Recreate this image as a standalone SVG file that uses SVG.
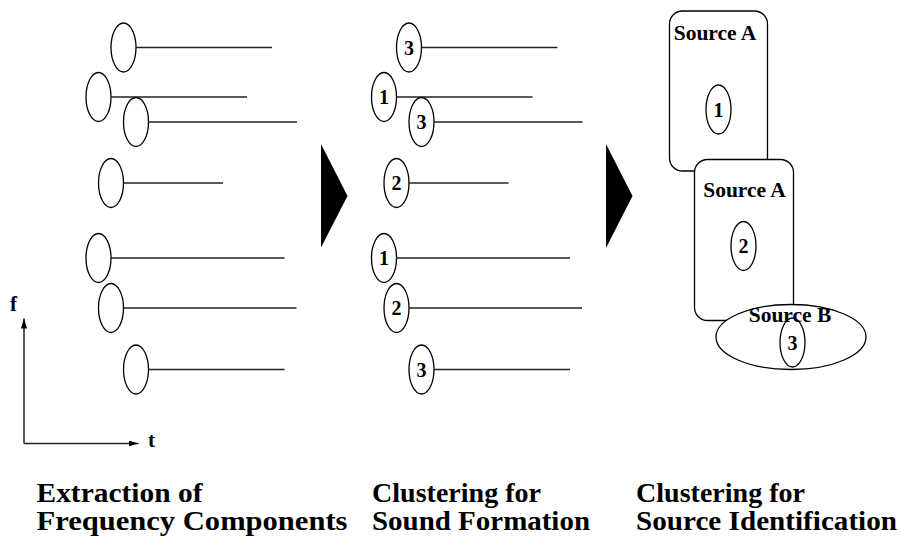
<svg xmlns="http://www.w3.org/2000/svg" width="901" height="538" viewBox="0 0 901 538">
<style>
  .el { fill: none; stroke: #000; stroke-width: 1.3; }
  .elw { fill: #fff; stroke: #000; stroke-width: 1.3; }
  .ln { stroke: #222; stroke-width: 1.5; fill: none; }
  .num { font-family: "Liberation Serif", "Times New Roman", serif; font-weight: bold; font-size: 20px; text-anchor: middle; fill: #000; }
  .src { font-family: "Liberation Serif", "Times New Roman", serif; font-weight: bold; font-size: 21.5px; text-anchor: middle; fill: #000; }
  .ax { font-family: "Liberation Serif", "Times New Roman", serif; font-weight: bold; font-size: 21px; fill: #000; }
  .cap { font-family: "Liberation Serif", "Times New Roman", serif; font-weight: bold; font-size: 28px; fill: #000; }
  .tri { fill: #000; }
</style>
<defs>
  <marker id="ah" viewBox="0 0 10 6" refX="10" refY="3" markerWidth="10" markerHeight="6" markerUnits="userSpaceOnUse" orient="auto">
    <path d="M0,0 L10,3 L0,6 z" fill="#000"/>
  </marker>
</defs>

<!-- Column 1: frequency components -->
<g id="col1">
  <g id="c1-1"><ellipse class="el" cx="123.5" cy="47.5" rx="12.5" ry="24.5"/><line class="ln" x1="136" y1="47.5" x2="272" y2="47.5"/></g>
  <g id="c1-2"><ellipse class="el" cx="98.5" cy="97" rx="12.5" ry="24.5"/><line class="ln" x1="111" y1="97" x2="247" y2="97"/></g>
  <g id="c1-3"><ellipse class="el" cx="136" cy="122" rx="12.5" ry="24.5"/><line class="ln" x1="148.5" y1="122" x2="297" y2="122"/></g>
  <g id="c1-4"><ellipse class="el" cx="111" cy="183" rx="12.5" ry="24.5"/><line class="ln" x1="123.5" y1="183" x2="223" y2="183"/></g>
  <g id="c1-5"><ellipse class="el" cx="98.5" cy="258" rx="12.5" ry="24.5"/><line class="ln" x1="111" y1="258" x2="284.5" y2="258"/></g>
  <g id="c1-6"><ellipse class="el" cx="111" cy="308" rx="12.5" ry="24.5"/><line class="ln" x1="123.5" y1="308" x2="296.5" y2="308"/></g>
  <g id="c1-7"><ellipse class="el" cx="136" cy="369.5" rx="12.5" ry="24.5"/><line class="ln" x1="148.5" y1="369.5" x2="284.5" y2="369.5"/></g>
</g>

<!-- Axes -->
<g id="axes">
  <line class="ln" x1="24" y1="443.5" x2="24" y2="318.5" marker-end="url(#ah)"/>
  <line class="ln" x1="24" y1="443.5" x2="138.5" y2="443.5" marker-end="url(#ah)"/>
  <text class="ax" x="10" y="311">f</text>
  <text class="ax" x="148" y="447">t</text>
</g>

<!-- Column 2: clustering for sound formation -->
<g id="col2">
  <g id="c2-1"><ellipse class="el" cx="409" cy="47.5" rx="12.5" ry="24.5"/><line class="ln" x1="421.5" y1="47.5" x2="557.5" y2="47.5"/><text class="num" x="409" y="54.5">3</text></g>
  <g id="c2-2"><ellipse class="el" cx="384" cy="97" rx="12.5" ry="24.5"/><line class="ln" x1="396.5" y1="97" x2="532.5" y2="97"/><text class="num" x="384" y="104">1</text></g>
  <g id="c2-3"><ellipse class="el" cx="421.5" cy="122" rx="12.5" ry="24.5"/><line class="ln" x1="434" y1="122" x2="582.5" y2="122"/><text class="num" x="421.5" y="129">3</text></g>
  <g id="c2-4"><ellipse class="el" cx="396.5" cy="183" rx="12.5" ry="24.5"/><line class="ln" x1="409" y1="183" x2="508.5" y2="183"/><text class="num" x="396.5" y="190">2</text></g>
  <g id="c2-5"><ellipse class="el" cx="384" cy="258" rx="12.5" ry="24.5"/><line class="ln" x1="396.5" y1="258" x2="570" y2="258"/><text class="num" x="384" y="265">1</text></g>
  <g id="c2-6"><ellipse class="el" cx="396.5" cy="308" rx="12.5" ry="24.5"/><line class="ln" x1="409" y1="308" x2="582" y2="308"/><text class="num" x="396.5" y="315">2</text></g>
  <g id="c2-7"><ellipse class="el" cx="421.5" cy="369.5" rx="12.5" ry="24.5"/><line class="ln" x1="434" y1="369.5" x2="570" y2="369.5"/><text class="num" x="421.5" y="376.5">3</text></g>
</g>

<!-- Arrows between stages -->
<g id="arrows">
  <polygon class="tri" points="321,144 347.5,196 321,247.5"/>
  <polygon class="tri" points="606,144 632.5,196 606,248"/>
</g>

<!-- Column 3: source identification -->
<g id="sourceA1">
  <rect class="elw" x="669.5" y="11" width="98" height="160" rx="13" ry="13"/>
  <text class="src" x="715" y="40">Source A</text>
  <ellipse class="el" cx="718.5" cy="109.5" rx="12.5" ry="24.5"/>
  <text class="num" x="718.5" y="116.5">1</text>
</g>
<g id="sourceA2">
  <rect class="elw" x="694.5" y="159.5" width="99" height="161" rx="13" ry="13"/>
  <text class="src" x="744.5" y="197">Source A</text>
  <ellipse class="el" cx="743.5" cy="246" rx="12.5" ry="24.5"/>
  <text class="num" x="743.5" y="253">2</text>
</g>
<g id="sourceB">
  <ellipse class="elw" cx="791" cy="337" rx="75" ry="32.5"/>
  <text class="src" x="790" y="322">Source B</text>
  <ellipse class="el" cx="792.5" cy="342.5" rx="12.5" ry="24.5"/>
  <text class="num" x="792.5" y="349.5">3</text>
</g>

<!-- Captions -->
<g id="captions">
  <text class="cap" x="36.5" y="502" textLength="166" lengthAdjust="spacingAndGlyphs">Extraction of</text>
  <text class="cap" x="36.5" y="530" textLength="311" lengthAdjust="spacingAndGlyphs">Frequency Components</text>
  <text class="cap" x="372" y="502" textLength="169" lengthAdjust="spacingAndGlyphs">Clustering for</text>
  <text class="cap" x="372" y="530" textLength="218" lengthAdjust="spacingAndGlyphs">Sound Formation</text>
  <text class="cap" x="636" y="502" textLength="169" lengthAdjust="spacingAndGlyphs">Clustering for</text>
  <text class="cap" x="636" y="530" textLength="261" lengthAdjust="spacingAndGlyphs">Source Identification</text>
</g>
</svg>
